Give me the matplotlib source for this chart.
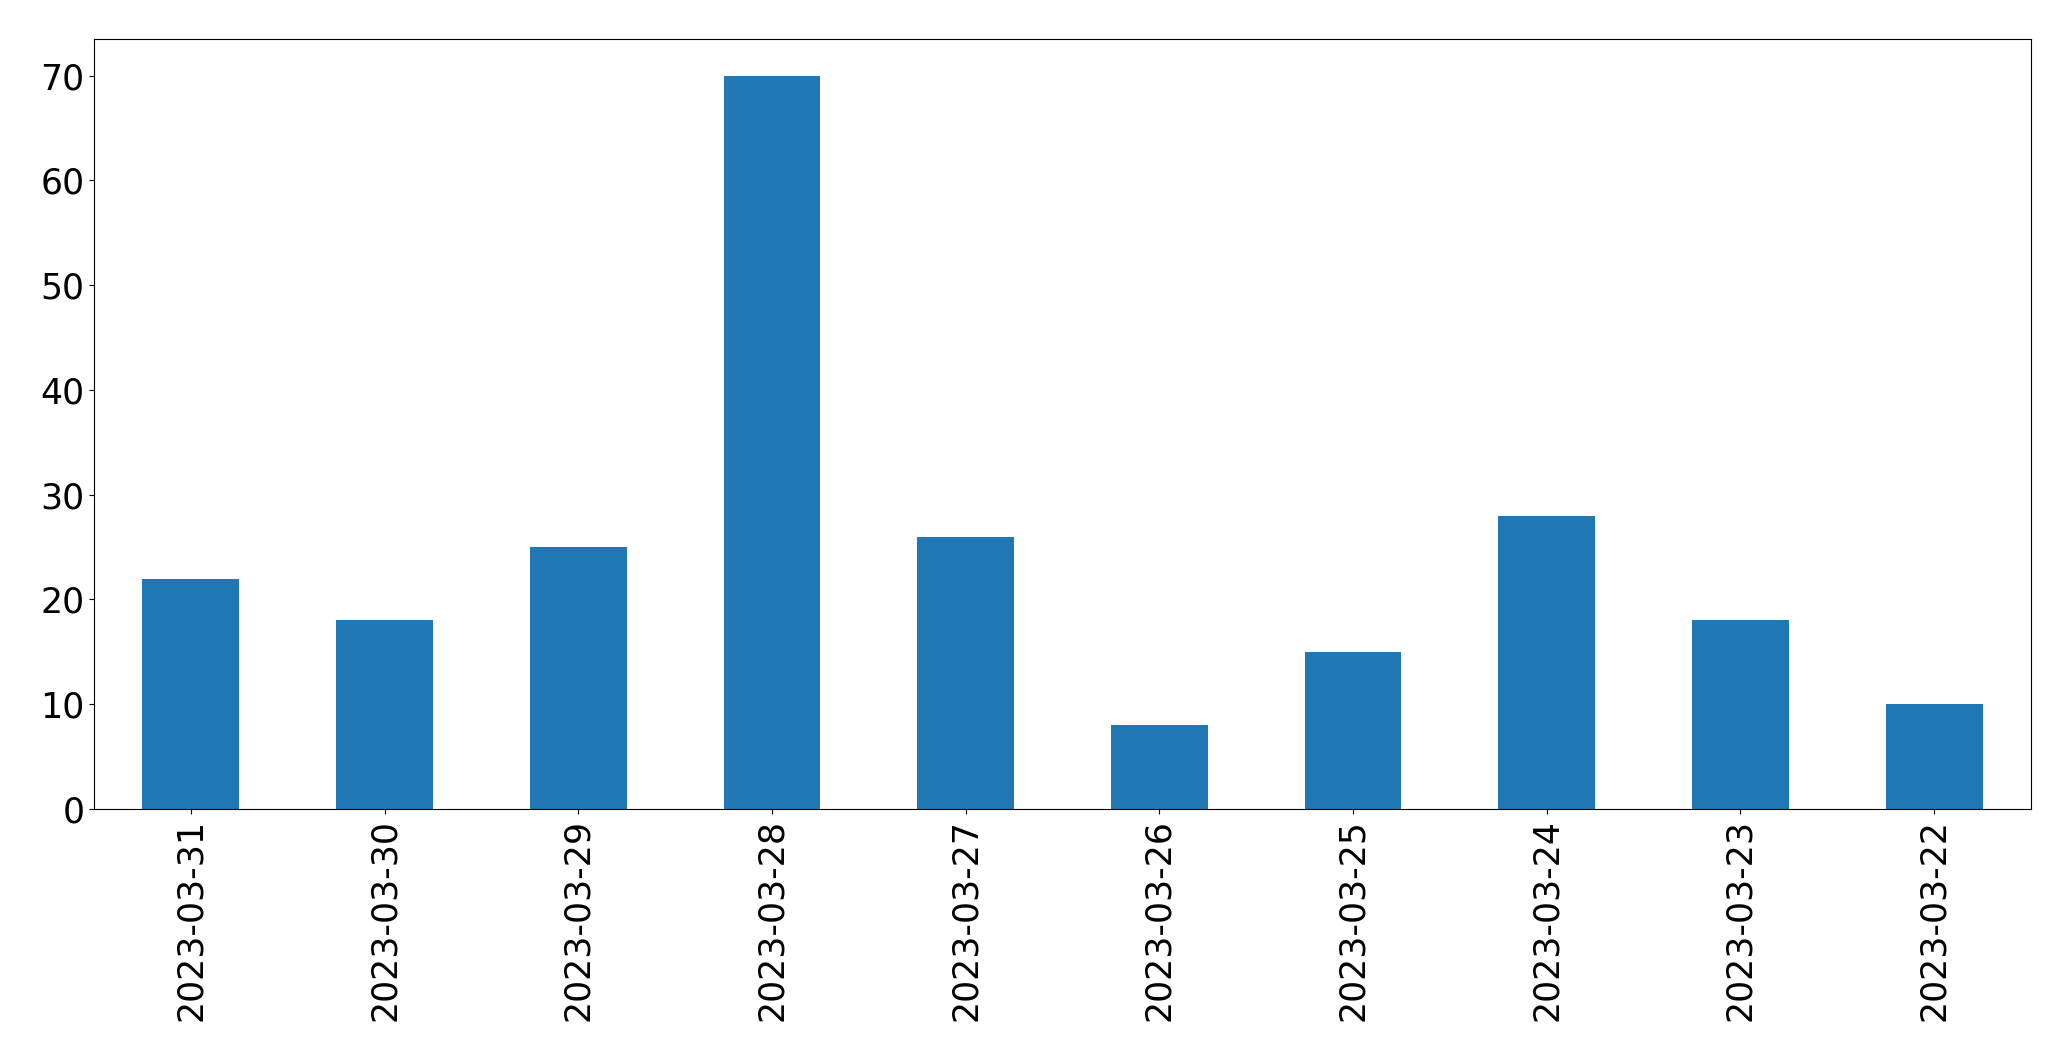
import matplotlib
matplotlib.use("Agg")
import matplotlib.pyplot as plt
import pandas as pd

dates = ["2023-03-31", "2023-03-30", "2023-03-29", "2023-03-28", "2023-03-27",
         "2023-03-26", "2023-03-25", "2023-03-24", "2023-03-23", "2023-03-22"]
counts = [22, 18, 25, 70, 26, 8, 15, 28, 18, 10]

series = pd.Series(counts, index=dates)

fig, ax = plt.subplots(figsize=(20.71, 10.61), dpi=100)
series.plot(kind="bar", ax=ax, color="#1f77b4")
ax.tick_params(axis="both", labelsize=25)
plt.subplots_adjust(left=94 / 2071, right=2031 / 2071, top=1 - 39 / 1061, bottom=1 - 809 / 1061)
plt.savefig("out.png", dpi=100)
